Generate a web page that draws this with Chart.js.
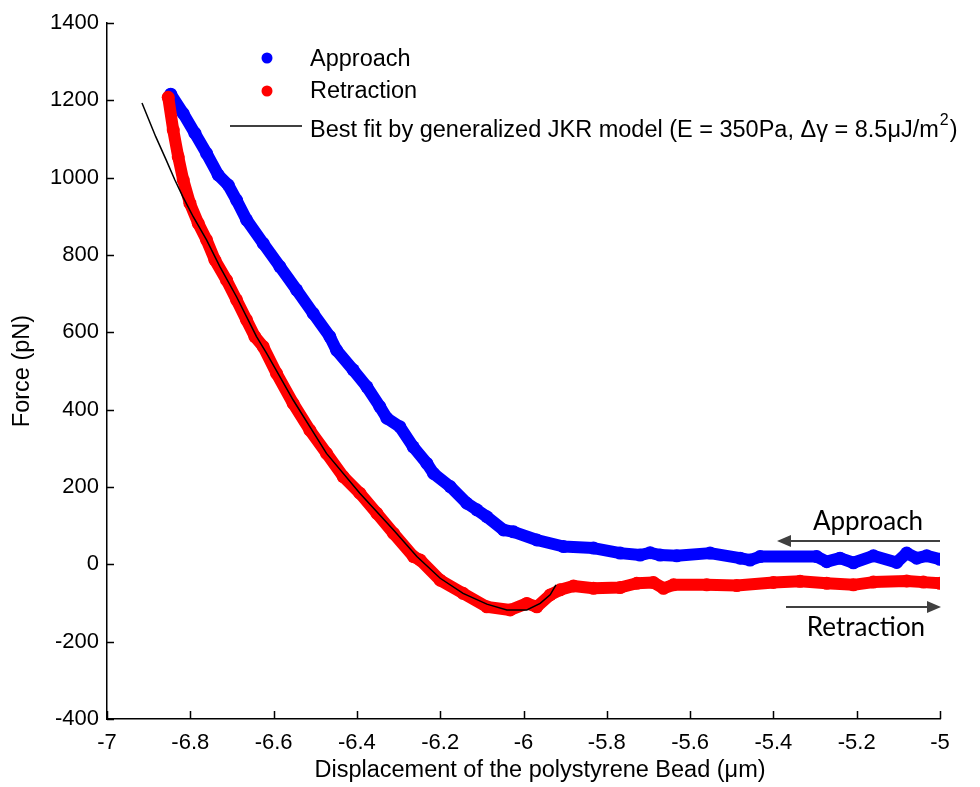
<!DOCTYPE html>
<html>
<head>
<meta charset="utf-8">
<script src="https://cdn.jsdelivr.net/npm/chart.js@4.4.1/dist/chart.umd.min.js"></script>
<style>
  html, body { margin: 0; padding: 0; background: #fff; }
  #wrap { width: 980px; height: 787px; }
</style>
</head>
<body>
<div id="wrap"><canvas id="c" width="980" height="787"></canvas></div>
<script>
// ---- data ----
const xTicks = [-7, -6.8, -6.6, -6.4, -6.2, -6, -5.8, -5.6, -5.4, -5.2, -5];
const xTickLabels = ['-7', '-6.8', '-6.6', '-6.4', '-6.2', '-6', '-5.8', '-5.6', '-5.4', '-5.2', '-5'];
const yTicks = [-400, -200, 0, 200, 400, 600, 800, 1000, 1200, 1400];
const yTickLabels = ['-400', '-200', '0', '200', '400', '600', '800', '1000', '1200', '1400'];

const approachX = [-6.847, -6.817, -6.789, -6.761, -6.733, -6.709, -6.689, -6.665, -6.625, -6.585,
  -6.545, -6.505, -6.465, -6.449, -6.409, -6.376, -6.345, -6.328, -6.297, -6.265,
  -6.232, -6.216, -6.176, -6.136, -6.112, -6.088, -6.048, -6.024, -5.968, -5.904,
  -5.832, -5.768, -5.720, -5.696, -5.672, -5.632, -5.552, -5.480, -5.456, -5.432,
  -5.296, -5.272, -5.240, -5.208, -5.160, -5.104, -5.080, -5.056, -5.032, -5.000];
const approachY = [1216, 1166, 1115, 1063, 1007, 981, 942, 891, 830, 770,
  710, 649, 589, 554, 503, 459, 408, 378, 356, 304,
  261, 235, 201, 158, 141, 123, 89, 84, 63, 46,
  42, 29, 24, 30, 24, 22, 29, 16, 11, 20,
  20, 7, 16, 4, 22, 5, 29, 16, 22, 13];

const retractX = [-6.853, -6.841, -6.829, -6.817, -6.801, -6.781, -6.761, -6.741, -6.713, -6.689,
  -6.665, -6.645, -6.625, -6.593, -6.553, -6.513, -6.473, -6.433, -6.393, -6.352,
  -6.312, -6.264, -6.248, -6.200, -6.145, -6.088, -6.032, -5.992, -5.968, -5.936,
  -5.912, -5.880, -5.832, -5.768, -5.728, -5.688, -5.664, -5.640, -5.560, -5.488,
  -5.400, -5.336, -5.272, -5.208, -5.160, -5.080, -5.040, -5.000];
const retractY = [1208, 1123, 1054, 994, 934, 882, 839, 787, 735, 684,
  632, 589, 563, 494, 416, 347, 287, 227, 184, 132,
  80, 20, 11, -41, -75, -110, -118, -101, -110, -79,
  -66, -56, -62, -60, -49, -47, -62, -53, -53, -55,
  -47, -44, -49, -53, -46, -43, -46, -49];

const fitX = [-6.916, -6.883, -6.858, -6.837, -6.818, -6.793, -6.761, -6.729, -6.689, -6.641,
  -6.617, -6.553, -6.473, -6.393, -6.312, -6.256, -6.200, -6.145, -6.088, -6.040,
  -5.992, -5.960, -5.936, -5.922];
const fitY = [1193, 1106, 1046, 994, 951, 899, 839, 770, 692, 589,
  546, 425, 287, 184, 89, 20, -36, -75, -103, -118,
  -118, -101, -79, -53];

const seriesNames = ['Approach', 'Retraction', 'Best fit by generalized JKR model (E = 350Pa, \u0394\u03b3 = 8.5\u03bcJ/m', '2', ')'];
const xTitle = 'Displacement of the polystyrene Bead (\u03bcm)';
const yTitle = 'Force (pN)';
const arrowLabels = ['Approach', 'Retraction'];

const toPts = (xs, ys) => xs.map((x, i) => ({ x: x, y: ys[i] }));

const ARIAL = '"Liberation Sans", Arial, sans-serif';

const overlay = {
  id: 'overlay',
  afterDraw(chart) {
    const ctx = chart.ctx;
    const xs = chart.scales.x, ys = chart.scales.y;
    const a = chart.chartArea;
    ctx.save();
    // inward tick marks
    ctx.strokeStyle = '#000';
    ctx.lineWidth = 1.5;
    ctx.beginPath();
    xTicks.forEach(v => {
      const px = Math.round(xs.getPixelForValue(v)) + 0.5;
      ctx.moveTo(px, a.bottom); ctx.lineTo(px, a.bottom - 8);
    });
    yTicks.forEach(v => {
      const py = Math.round(ys.getPixelForValue(v)) + 0.5;
      ctx.moveTo(a.left, py); ctx.lineTo(a.left + 7, py);
    });
    ctx.stroke();

    // x axis title
    ctx.fillStyle = '#000';
    ctx.font = '23.5px ' + ARIAL;
    ctx.textAlign = 'center';
    ctx.textBaseline = 'middle';
    ctx.fillText(xTitle, 540, 771);

    // legend
    ctx.textAlign = 'left';
    ctx.fillStyle = '#0000ff';
    ctx.beginPath(); ctx.arc(267, 58, 5.5, 0, Math.PI * 2); ctx.fill();
    ctx.fillStyle = '#ff0000';
    ctx.beginPath(); ctx.arc(267, 91, 5.5, 0, Math.PI * 2); ctx.fill();
    ctx.strokeStyle = '#000'; ctx.lineWidth = 1.5;
    ctx.beginPath(); ctx.moveTo(230, 126); ctx.lineTo(302, 126); ctx.stroke();
    ctx.fillStyle = '#000';
    ctx.font = '23.5px ' + ARIAL;
    ctx.fillText(seriesNames[0], 310, 60);
    ctx.fillText(seriesNames[1], 310, 92);
    ctx.fillText(seriesNames[2], 310, 131);
    let w = ctx.measureText(seriesNames[2]).width;
    ctx.font = '16px ' + ARIAL;
    ctx.fillText(seriesNames[3], 310 + w + 1, 121);
    const w2 = ctx.measureText(seriesNames[3]).width;
    ctx.font = '23.5px ' + ARIAL;
    ctx.fillText(seriesNames[4], 310 + w + w2 + 2, 131);

    // arrows
    ctx.strokeStyle = '#404040';
    ctx.fillStyle = '#404040';
    ctx.lineWidth = 2;
    ctx.beginPath(); ctx.moveTo(940, 541); ctx.lineTo(788, 541); ctx.stroke();
    ctx.beginPath(); ctx.moveTo(777, 541); ctx.lineTo(791, 535); ctx.lineTo(791, 547); ctx.closePath(); ctx.fill();
    ctx.beginPath(); ctx.moveTo(786, 607); ctx.lineTo(930, 607); ctx.stroke();
    ctx.beginPath(); ctx.moveTo(941, 607); ctx.lineTo(927, 601); ctx.lineTo(927, 613); ctx.closePath(); ctx.fill();
    ctx.fillStyle = '#000';
    ctx.font = '26px Lato, "Open Sans", sans-serif';
    ctx.textAlign = 'center';
    ctx.fillText(arrowLabels[0], 868, 522);
    ctx.fillText(arrowLabels[1], 866, 628);
    ctx.restore();
  }
};

new Chart(document.getElementById('c'), {
  type: 'scatter',
  data: {
    datasets: [
      {
        label: 'Best fit',
        data: toPts(fitX, fitY),
        showLine: true,
        borderColor: '#000',
        borderWidth: 1.5,
        pointRadius: 0,
        fill: false,
        order: 0
      },
      {
        label: 'Retraction',
        data: toPts(retractX, retractY),
        showLine: true,
        borderColor: '#ff0000',
        backgroundColor: '#ff0000',
        borderWidth: 12,
        borderCapStyle: 'round',
        borderJoinStyle: 'round',
        pointRadius: 6.5,
        pointBorderWidth: 0,
        fill: false,
        order: 1
      },
      {
        label: 'Approach',
        data: toPts(approachX, approachY),
        showLine: true,
        borderColor: '#0000ff',
        backgroundColor: '#0000ff',
        borderWidth: 12,
        borderCapStyle: 'round',
        borderJoinStyle: 'round',
        pointRadius: 6.5,
        pointBorderWidth: 0,
        fill: false,
        order: 2
      }
    ]
  },
  options: {
    responsive: false,
    animation: false,
    devicePixelRatio: 1,
    layout: { padding: { top: 23, right: 40, left: 0, bottom: 0 } },
    plugins: { legend: { display: false }, tooltip: { enabled: false } },
    scales: {
      x: {
        type: 'linear',
        min: -7, max: -5,
        afterBuildTicks: s => { s.ticks = xTicks.map(v => ({ value: v })); },
        afterFit: s => { s.height = 68; },
        grid: { display: false, drawTicks: false },
        border: { display: true, color: '#000', width: 1.5 },
        ticks: {
          padding: 11,
          color: '#000',
          font: { family: ARIAL, size: 22 },
          maxRotation: 0,
          autoSkip: false,
          callback: (v) => xTickLabels[xTicks.findIndex(t => Math.abs(t - v) < 1e-6)]
        }
      },
      y: {
        type: 'linear',
        min: -400, max: 1400,
        afterBuildTicks: s => { s.ticks = yTicks.map(v => ({ value: v })); },
        afterFit: s => { s.width = 107; },
        grid: { display: false, drawTicks: false },
        border: { display: true, color: '#000', width: 1.5 },
        title: {
          display: true,
          text: yTitle,
          color: '#000',
          font: { family: ARIAL, size: 23.5 },
          padding: { top: 8, bottom: 0 }
        },
        ticks: {
          padding: 8,
          color: '#000',
          font: { family: ARIAL, size: 22 },
          autoSkip: false,
          callback: (v) => yTickLabels[yTicks.findIndex(t => Math.abs(t - v) < 1e-6)]
        }
      }
    }
  },
  plugins: [overlay]
});
</script>
</body>
</html>
